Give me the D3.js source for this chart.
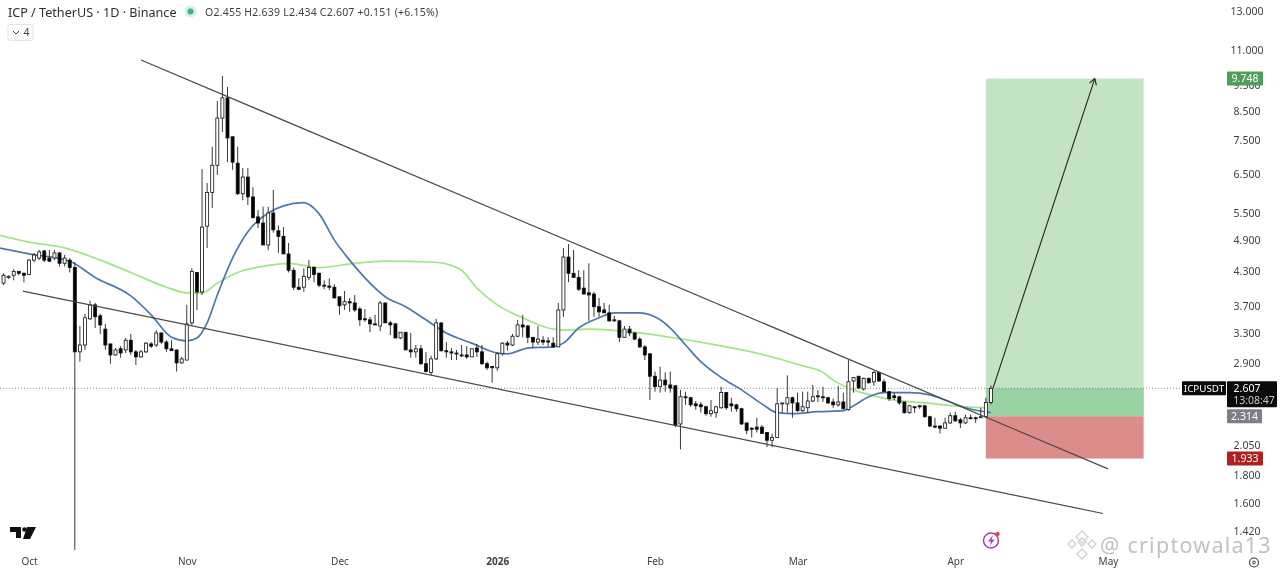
<!DOCTYPE html>
<html>
<head>
<meta charset="utf-8">
<style>
  html, body { margin: 0; padding: 0; background: #fff; overflow: hidden; }
  svg { display: block; font-family: "Noto Sans", "Open Sans", sans-serif; filter: blur(0.4px); }
</style>
<script src="https://cdn.jsdelivr.net/npm/d3@7"></script>
</head>
<body>
<div id="vis"></div>
<script>
// Declare constants for frame
const FRAME_WIDTH = 1280;
const FRAME_HEIGHT = 571;

// daily candles, first one is 26 Sep 2025
const FIRST_DAY = "2025-09-26";
const OPENS = [
  4.08,4.18,4.22,4.29,4.255,4.235,4.50,4.54,4.68,4.54,
  4.54,4.64,4.44,4.50,4.36,3.045,3.135,3.505,3.72,3.55,
  3.355,3.15,3.005,3.085,3.07,3.20,3.045,2.98,3.045,3.15,
  3.135,3.30,3.175,3.085,3.07,2.905,2.94,3.445,4.27,3.93,
  5.20,6.00,6.74,8.24,8.98,7.61,6.80,5.97,6.41,5.89,
  5.41,5.27,4.80,5.50,5.10,4.98,4.62,4.31,4.01,4.01,
  4.18,4.36,4.255,4.045,4.03,4.01,3.85,3.72,3.77,3.75,
  3.655,3.505,3.49,3.43,3.40,3.75,3.445,3.43,3.23,3.31,
  3.07,3.045,3.085,2.895,2.79,2.955,3.445,3.06,3.045,3.03,
  3.005,3.005,2.98,3.095,3.045,2.895,2.86,2.845,3.02,3.16,
  3.135,3.255,3.415,3.40,3.24,3.175,3.20,3.19,3.16,3.11,
  3.64,4.56,4.255,4.18,3.995,3.915,3.895,3.69,3.64,3.595,
  3.49,3.475,3.24,3.355,3.30,3.215,3.11,3.02,2.745,2.625,
  2.70,2.645,2.635,2.24,2.515,2.505,2.44,2.43,2.41,2.34,
  2.35,2.40,2.56,2.44,2.43,2.39,2.25,2.20,2.21,2.21,
  2.16,2.09,2.115,2.44,2.44,2.505,2.45,2.37,2.40,2.47,
  2.525,2.515,2.505,2.46,2.43,2.46,2.38,2.69,2.745,2.60,
  2.72,2.68,2.79,2.68,2.57,2.525,2.515,2.46,2.35,2.41,
  2.42,2.42,2.31,2.22,2.22,2.20,2.25,2.32,2.28,2.25,
  2.30,2.30,2.30,2.31,2.455
];
const HIGHS = [
  4.255,4.22,4.33,4.29,4.27,4.52,4.64,4.70,4.70,4.70,
  4.70,4.66,4.60,4.54,4.46,3.40,3.58,3.785,3.75,3.58,
  3.43,3.15,3.095,3.12,3.23,3.285,3.07,3.07,3.175,3.175,
  3.34,3.31,3.20,3.20,3.07,2.98,3.72,4.345,4.27,6.63,
  6.25,7.29,8.86,9.86,9.41,7.61,7.29,6.66,6.66,6.14,
  5.57,5.65,5.65,6.07,5.22,5.18,4.84,4.36,4.165,4.345,
  4.50,4.38,4.27,4.13,4.165,4.06,3.85,3.945,3.83,3.88,
  3.69,3.655,3.535,3.565,3.785,3.75,3.475,3.445,3.31,3.31,
  3.30,3.135,3.135,3.045,2.995,3.505,3.445,3.175,3.095,3.07,
  3.135,3.12,3.085,3.15,3.135,2.92,2.86,3.045,3.175,3.19,
  3.285,3.49,3.565,3.415,3.24,3.40,3.255,3.24,3.24,3.75,
  4.74,4.82,4.70,4.31,4.31,4.44,3.93,3.83,3.75,3.72,
  3.55,3.49,3.40,3.40,3.31,3.24,3.135,3.02,2.80,2.86,
  2.79,2.80,2.645,2.59,2.57,2.515,2.47,2.46,2.42,2.48,
  2.42,2.625,2.56,2.505,2.44,2.40,2.25,2.21,2.30,2.23,
  2.16,2.15,2.61,2.45,2.755,2.515,2.56,2.57,2.57,2.645,
  2.59,2.625,2.515,2.495,2.635,2.56,2.94,2.73,2.745,2.73,
  2.73,2.81,2.80,2.71,2.58,2.56,2.525,2.46,2.43,2.42,
  2.43,2.43,2.32,2.30,2.23,2.30,2.35,2.36,2.30,2.33,
  2.33,2.31,2.40,2.505,2.639
];
const LOWS = [
  4.045,4.15,4.13,4.22,4.095,4.22,4.46,4.50,4.46,4.46,
  4.50,4.38,4.38,4.27,1.31,2.92,3.07,3.49,3.37,3.285,
  3.07,2.895,2.995,2.97,3.03,3.005,2.88,2.97,3.03,3.095,
  3.11,3.15,3.045,3.06,2.80,2.895,2.94,3.415,3.64,3.88,
  4.74,5.62,6.47,7.77,6.83,6.61,5.94,5.81,5.69,5.39,
  5.16,4.80,4.70,5.06,4.64,4.62,4.27,3.96,3.96,3.93,
  4.13,4.095,4.01,3.975,3.96,3.83,3.565,3.64,3.61,3.61,
  3.40,3.46,3.31,3.415,3.325,3.445,3.27,3.23,3.215,3.07,
  2.97,2.97,2.88,2.79,2.755,2.94,3.045,2.97,2.94,2.94,
  2.98,2.955,2.98,2.98,2.88,2.82,2.67,2.81,2.995,3.06,
  3.12,3.24,3.24,3.16,3.095,3.135,3.135,3.12,3.095,3.11,
  3.535,4.095,4.18,3.945,3.895,3.475,3.535,3.535,3.595,3.46,
  3.46,3.175,3.23,3.255,3.20,3.095,2.94,2.48,2.57,2.56,
  2.57,2.56,2.21,2.01,2.43,2.41,2.38,2.35,2.32,2.31,
  2.30,2.39,2.38,2.36,2.36,2.23,2.145,2.115,2.16,2.15,
  2.03,2.03,2.115,2.35,2.35,2.30,2.36,2.36,2.35,2.46,
  2.46,2.46,2.44,2.40,2.41,2.38,2.37,2.56,2.60,2.58,
  2.66,2.635,2.68,2.57,2.47,2.48,2.43,2.34,2.34,2.35,
  2.39,2.30,2.21,2.20,2.15,2.20,2.24,2.26,2.20,2.24,
  2.29,2.25,2.30,2.30,2.434
];
const CLOSES = [
  4.22,4.20,4.29,4.255,4.22,4.50,4.60,4.66,4.50,4.48,
  4.64,4.44,4.54,4.36,3.045,3.135,3.52,3.72,3.535,3.415,
  3.135,3.005,3.07,3.03,3.20,3.045,2.98,3.045,3.16,3.12,
  3.30,3.175,3.085,3.06,2.905,2.955,3.43,4.29,3.93,5.18,
  6.00,6.74,8.24,8.98,7.57,6.83,5.97,6.41,5.89,5.39,
  5.27,4.80,5.50,5.12,4.98,4.62,4.31,4.01,3.975,4.20,
  4.36,4.235,4.045,4.03,4.01,3.83,3.705,3.77,3.75,3.64,
  3.49,3.49,3.43,3.415,3.75,3.445,3.415,3.23,3.31,3.07,
  3.045,3.085,2.895,2.80,2.955,3.445,3.06,3.045,3.03,3.02,
  2.995,2.98,3.085,3.045,2.895,2.845,2.845,3.02,3.16,3.135,
  3.255,3.415,3.385,3.24,3.175,3.215,3.175,3.175,3.11,3.64,
  4.56,4.255,4.18,3.975,3.895,3.88,3.69,3.61,3.595,3.475,
  3.475,3.24,3.355,3.30,3.215,3.11,3.005,2.745,2.625,2.70,
  2.645,2.61,2.23,2.515,2.505,2.43,2.42,2.41,2.34,2.37,
  2.41,2.56,2.40,2.42,2.39,2.24,2.18,2.19,2.19,2.15,
  2.09,2.115,2.44,2.45,2.505,2.45,2.37,2.41,2.47,2.515,
  2.515,2.505,2.45,2.43,2.46,2.39,2.68,2.73,2.61,2.72,
  2.67,2.79,2.69,2.57,2.495,2.505,2.45,2.35,2.42,2.40,
  2.41,2.31,2.22,2.21,2.20,2.25,2.32,2.27,2.25,2.30,
  2.29,2.29,2.31,2.455,2.607
];

// moving averages, day = days after 1 Oct 2025
const BLUE_DAYS = [-6,0,8,13,20,24,28,31,33,35,37,40,43,47,50,54,57,60,63,67,70,74,78,82,87,92,94,98,103,105,108,112,115,120,124,126,129,132,136,140,144,147,150,155,160,162,165,168,173,177,180,184,189];
const BLUE_VALUES = [4.74,4.62,4.48,4.18,3.865,3.565,3.24,3.19,3.23,3.445,3.88,4.54,5.08,5.50,5.67,5.75,5.48,4.90,4.50,4.08,3.85,3.69,3.49,3.30,3.16,3.03,3.02,3.095,3.11,3.16,3.37,3.52,3.595,3.595,3.49,3.37,3.135,2.92,2.73,2.59,2.44,2.35,2.34,2.36,2.37,2.42,2.515,2.56,2.56,2.535,2.48,2.40,2.35];
const GREEN_DAYS = [-6,0,7,14,20,27,31,34,37,41,47,51,57,64,70,80,83,85,88,92,97,102,105,110,120,126,133,142,152,156,158,162,166,170,176,184,188];
const GREEN_VALUES = [5.01,4.86,4.74,4.50,4.27,4.01,3.915,3.915,4.08,4.27,4.40,4.44,4.36,4.44,4.48,4.46,4.40,4.31,3.995,3.72,3.52,3.37,3.34,3.355,3.30,3.24,3.16,3.045,2.87,2.79,2.70,2.59,2.525,2.48,2.45,2.41,2.40];

// drawings, same day numbering
const UPPER_TREND_DAYS = [22, 212];
const UPPER_TREND_PRICES = [10.55, 1.85];
const LOWER_TREND_DAYS = [-1.2, 211];
const LOWER_TREND_PRICES = [3.945, 1.53];
const ARROW_DAYS = [189.4, 209.4];
const ARROW_PRICES = [2.607, 9.748];
const POSITION_DAYS = [188, 219];
const TARGET_PRICE = 9.748;
const ENTRY_PRICE = 2.314;
const STOP_PRICE = 1.933;
const LAST_PRICE = 2.607;

// axis labels
const PRICE_TICKS = [13, 11, 9.5, 8.5, 7.5, 6.5, 5.5, 4.9, 4.3, 3.7, 3.3, 2.9, 2.05, 1.8, 1.6, 1.42];
const MONTH_TICKS = ["2025-10-01", "2025-11-01", "2025-12-01", "2026-01-01", "2026-02-01", "2026-03-01", "2026-04-01", "2026-05-01"];
const MONTH_LABELS = ["Oct", "Nov", "Dec", "2026", "Feb", "Mar", "Apr", "May"];

const DAY_ZERO = new Date("2025-10-01T00:00:00Z");
const dayToDate = (n) => new Date(DAY_ZERO.getTime() + n * 864e5);
const MONTH_DATES = MONTH_TICKS.map((d) => new Date(d + "T00:00:00Z"));

const FRAME = d3.select("#vis")
                .append("svg")
                  .attr("width", FRAME_WIDTH)
                  .attr("height", FRAME_HEIGHT);

// scale functions
const X_SCALE = d3.scaleUtc()
                  .domain([MONTH_DATES[0], MONTH_DATES[7]])
                  .range([29, 1108]);
const Y_SCALE = d3.scaleLog()
                  .domain([1.42, 13])
                  .range([531, 11]);

// long position boxes
const BOX_X = X_SCALE(dayToDate(POSITION_DAYS[0]));
const BOX_W = X_SCALE(dayToDate(POSITION_DAYS[1])) - BOX_X;
FRAME.append("rect").attr("x", BOX_X).attr("width", BOX_W)
     .attr("y", Y_SCALE(TARGET_PRICE))
     .attr("height", Y_SCALE(ENTRY_PRICE) - Y_SCALE(TARGET_PRICE))
     .attr("fill", "#c3e3c3");
FRAME.append("rect").attr("x", BOX_X).attr("width", BOX_W)
     .attr("y", Y_SCALE(LAST_PRICE))
     .attr("height", Y_SCALE(ENTRY_PRICE) - Y_SCALE(LAST_PRICE))
     .attr("fill", "#99d3a3");
FRAME.append("rect").attr("x", BOX_X).attr("width", BOX_W)
     .attr("y", Y_SCALE(ENTRY_PRICE))
     .attr("height", Y_SCALE(STOP_PRICE) - Y_SCALE(ENTRY_PRICE))
     .attr("fill", "#dc8c8a");

// last price line
FRAME.append("line")
     .attr("x1", 0).attr("x2", 1181)
     .attr("y1", Y_SCALE(LAST_PRICE)).attr("y2", Y_SCALE(LAST_PRICE))
     .attr("stroke", "#8a8a8a")
     .attr("stroke-dasharray", "1 2");

// moving averages
const line = d3.line()
               .x((d) => X_SCALE(dayToDate(d[0])))
               .y((d) => Y_SCALE(d[1]))
               .curve(d3.curveMonotoneX);
FRAME.append("path")
     .attr("d", line(d3.zip(GREEN_DAYS, GREEN_VALUES)))
     .attr("fill", "none").attr("stroke", "#a3e486").attr("stroke-width", 1.7);
FRAME.append("path")
     .attr("d", line(d3.zip(BLUE_DAYS, BLUE_VALUES)))
     .attr("fill", "none").attr("stroke", "#4f77ad").attr("stroke-width", 1.7);

// candles
const candles = OPENS.map((o, i) => ({
  date: d3.utcDay.offset(new Date(FIRST_DAY + "T00:00:00Z"), i),
  open: o, high: HIGHS[i], low: LOWS[i], close: CLOSES[i]
}));
const candle = FRAME.append("g").selectAll("g").data(candles).enter().append("g");
candle.append("line")
      .attr("x1", (d) => X_SCALE(d.date))
      .attr("x2", (d) => X_SCALE(d.date))
      .attr("y1", (d) => Y_SCALE(d.high))
      .attr("y2", (d) => Y_SCALE(d.low))
      .attr("stroke", "#222")
      .attr("stroke-width", 0.9);
candle.append("rect")
      .attr("x", (d) => X_SCALE(d.date) - 1.5)
      .attr("width", 3)
      .attr("y", (d) => Y_SCALE(Math.max(d.open, d.close)))
      .attr("height", (d) => Math.max(1, Math.abs(Y_SCALE(d.open) - Y_SCALE(d.close))))
      .attr("fill", (d) => d.close >= d.open ? "#fff" : "#000")
      .attr("stroke", "#111")
      .attr("stroke-width", 0.8);

// trend lines
[[UPPER_TREND_DAYS, UPPER_TREND_PRICES], [LOWER_TREND_DAYS, LOWER_TREND_PRICES]].forEach((t) => {
  FRAME.append("line")
       .attr("x1", X_SCALE(dayToDate(t[0][0]))).attr("y1", Y_SCALE(t[1][0]))
       .attr("x2", X_SCALE(dayToDate(t[0][1]))).attr("y2", Y_SCALE(t[1][1]))
       .attr("stroke", "#4a4a4a").attr("stroke-width", 1.2);
});

// arrow to the target
const ax1 = X_SCALE(dayToDate(ARROW_DAYS[0])), ay1 = Y_SCALE(ARROW_PRICES[0]);
const ax2 = X_SCALE(dayToDate(ARROW_DAYS[1])), ay2 = Y_SCALE(ARROW_PRICES[1]);
const ang = Math.atan2(ay1 - ay2, ax1 - ax2);
FRAME.append("line")
     .attr("x1", ax1).attr("y1", ay1).attr("x2", ax2).attr("y2", ay2)
     .attr("stroke", "#222").attr("stroke-width", 1.1);
FRAME.append("path")
     .attr("d", d3.line()([[ax2 + 7 * Math.cos(ang - 0.55), ay2 + 7 * Math.sin(ang - 0.55)], [ax2, ay2],
                           [ax2 + 7 * Math.cos(ang + 0.55), ay2 + 7 * Math.sin(ang + 0.55)]]))
     .attr("fill", "none").attr("stroke", "#222").attr("stroke-width", 1.1);

// price axis
const yAxis = FRAME.append("g")
     .attr("transform", "translate(1247,0)")
     .call(d3.axisRight(Y_SCALE).tickValues(PRICE_TICKS).tickFormat(d3.format(".3f")).tickSize(0).tickPadding(0));
yAxis.select(".domain").remove();
yAxis.selectAll("text")
     .attr("text-anchor", "middle")
     .attr("fill", "#3c3f48")
     .attr("font-family", "Noto Sans")
     .attr("font-size", 10.5);

// time axis
const xAxis = FRAME.append("g")
     .attr("transform", "translate(0,552)")
     .call(d3.axisBottom(X_SCALE).tickValues(MONTH_DATES)
             .tickFormat((d, i) => MONTH_LABELS[i]).tickSize(0).tickPadding(6));
xAxis.select(".domain").remove();
xAxis.selectAll("text")
     .attr("fill", "#3c3f48")
     .attr("font-family", "Noto Sans")
     .attr("font-size", 10)
     .attr("font-weight", (d, i) => MONTH_LABELS[i] === "2026" ? 700 : 400);

// price labels on the axis
function tag(x, y, w, h, fill, txt, color, textX) {
  FRAME.append("rect").attr("x", x).attr("y", y).attr("width", w).attr("height", h)
       .attr("rx", 1).attr("fill", fill);
  FRAME.append("text").attr("x", textX || x + w / 2).attr("y", y + 10.5)
       .attr("text-anchor", "middle").attr("font-size", 10.5).attr("fill", color).text(txt);
}
tag(1182, Y_SCALE(LAST_PRICE) - 7, 44, 14, "#0a0a0a", "ICPUSDT", "#fff");
FRAME.selectAll("text").filter(function() { return this.textContent === "ICPUSDT"; }).attr("font-size", 9.8);
tag(1227, Y_SCALE(LAST_PRICE) - 7, 50, 26, "#0a0a0a", "2.607", "#fff", 1247);
FRAME.append("text").attr("x", 1254).attr("y", Y_SCALE(LAST_PRICE) + 16)
     .attr("text-anchor", "middle").attr("font-size", 10.5).attr("fill", "#c8c8c8").text("13:08:47");
tag(1227, Y_SCALE(ENTRY_PRICE) - 7, 35, 14, "#7c7f8a", "2.314", "#fff");
tag(1227, Y_SCALE(STOP_PRICE) - 7, 36, 14, "#b0201f", "1.933", "#fff");
tag(1227, Y_SCALE(TARGET_PRICE) - 7, 36, 14, "#4f9f58", "9.748", "#fff");

// legend
FRAME.append("text").attr("x", 8).attr("y", 16.5)
     .attr("font-size", 12.6).attr("fill", "#2a2e39").text("ICP / TetherUS · 1D · Binance");
FRAME.append("circle").attr("cx", 190.5).attr("cy", 11.5).attr("r", 6).attr("fill", "#d5efe9");
FRAME.append("circle").attr("cx", 190.5).attr("cy", 11.5).attr("r", 3).attr("fill", "#3fae96");
FRAME.append("text").attr("x", 205).attr("y", 15.5)
     .attr("font-size", 10.5).attr("letter-spacing", 0.22).attr("fill", "#3c3f48")
     .text("O2.455  H2.639  L2.434  C2.607  +0.151 (+6.15%)");
FRAME.append("rect").attr("x", 8).attr("y", 24.5).attr("width", 25).attr("height", 16).attr("rx", 2)
     .attr("fill", "#fff").attr("stroke", "#e3e3e6");
FRAME.append("path").attr("d", "M13 31 l3 3 l3 -3").attr("fill", "none").attr("stroke", "#444").attr("stroke-width", 1);
FRAME.append("text").attr("x", 23.5).attr("y", 36).attr("font-size", 10.5).attr("fill", "#3c3f48").text("4");

// TradingView mark
FRAME.append("path")
     .attr("d", "M10 527 h11 v11 h-5 v-6 h-6 Z M27 527 h9 l-6 12 h-7 Z")
     .attr("fill", "#111");
FRAME.append("circle").attr("cx", 24.5).attr("cy", 529.5).attr("r", 2.3).attr("fill", "#111");

// lightning badge
FRAME.append("circle").attr("cx", 991).attr("cy", 540.5).attr("r", 7.5)
     .attr("fill", "none").attr("stroke", "#9b3fb5").attr("stroke-width", 1.5);
FRAME.append("path").attr("d", "M993 535 l-5 6.5 h3 l-1.5 4.5 l5 -6.5 h-3 Z").attr("fill", "#9b3fb5");
FRAME.append("circle").attr("cx", 997.5).attr("cy", 534).attr("r", 2.2).attr("fill", "#e8453c");

// settings button
FRAME.append("circle").attr("cx", 1254).attr("cy", 562.5).attr("r", 4.5)
     .attr("fill", "none").attr("stroke", "#333").attr("stroke-width", 1.1);
FRAME.append("circle").attr("cx", 1254).attr("cy", 562.5).attr("r", 1.4)
     .attr("fill", "none").attr("stroke", "#333").attr("stroke-width", 1);

// watermark
const mark = FRAME.append("g").attr("fill", "none").attr("stroke", "#d2d2d2").attr("stroke-width", 1.4);
mark.append("path").attr("d", "M1082 531 l6 6 l-6 6 l-6 -6 Z M1082 538 l4 4 l-4 4 l-4 -4 Z M1072 540 l4 4 l-4 4 l-4 -4 Z M1092 540 l4 4 l-4 4 l-4 -4 Z M1082 549 l5 5 l-5 5 l-5 -5 Z");
FRAME.append("text").attr("x", 1100).attr("y", 553)
     .attr("font-size", 21.5).attr("letter-spacing", 1.25)
     .attr("fill", "#c2c2c2").text("@ criptowala13");
</script>
</body>
</html>
